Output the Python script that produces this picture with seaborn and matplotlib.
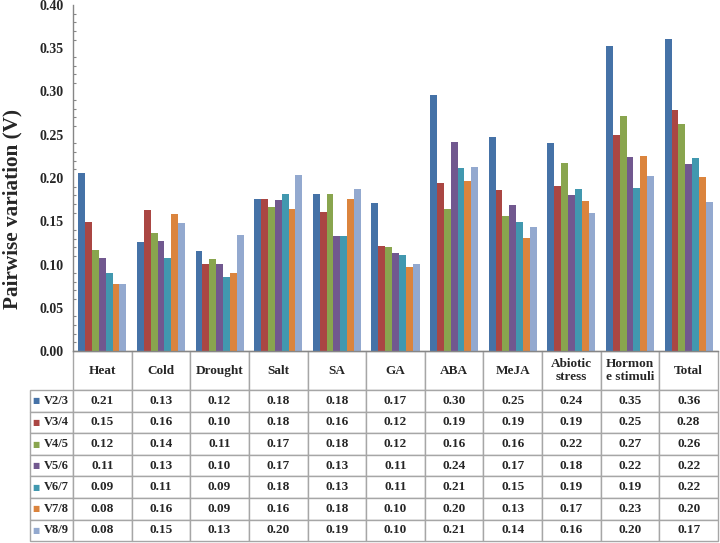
import pandas as pd
import matplotlib
matplotlib.use("Agg")
import matplotlib.pyplot as plt
from matplotlib.ticker import MultipleLocator
import seaborn as sns

# Data (pairwise variation per subset)
categories = ['Heat', 'Cold', 'Drought', 'Salt', 'SA', 'GA', 'ABA', 'MeJA',
              'Abiotic stress', 'Hormone stimuli', 'Total']
header_labels = ['Heat', 'Cold', 'Drought', 'Salt', 'SA', 'GA', 'ABA', 'MeJA',
                 'Abiotic\nstress', 'Hormon\ne stimuli', 'Total']
series = ['V2/3', 'V3/4', 'V4/5', 'V5/6', 'V6/7', 'V7/8', 'V8/9']

v23 = [0.206, 0.126, 0.116, 0.176, 0.182, 0.171, 0.296, 0.247, 0.240, 0.353, 0.361]
v34 = [0.149, 0.163, 0.101, 0.176, 0.161, 0.121, 0.194, 0.186, 0.191, 0.250, 0.279]
v45 = [0.117, 0.136, 0.106, 0.166, 0.182, 0.120, 0.164, 0.156, 0.217, 0.272, 0.262]
v56 = [0.108, 0.127, 0.101, 0.174, 0.133, 0.113, 0.242, 0.169, 0.180, 0.224, 0.216]
v67 = [0.090, 0.107, 0.086, 0.182, 0.133, 0.111, 0.211, 0.149, 0.187, 0.189, 0.223]
v78 = [0.077, 0.158, 0.090, 0.164, 0.176, 0.097, 0.197, 0.131, 0.173, 0.226, 0.201]
v89 = [0.078, 0.148, 0.134, 0.204, 0.187, 0.101, 0.213, 0.143, 0.160, 0.202, 0.172]
series_values = [v23, v34, v45, v56, v67, v78, v89]

colors = ['#4572A7', '#AA4643', '#89A54E', '#71588F', '#4198AF', '#DB843D', '#93A9CF']

# long-form table for seaborn
df = pd.DataFrame({
    'category': categories * len(series),
    'series': [s for s in series for _ in categories],
    'value': [v for vals in series_values for v in vals],
})

sns.set_style('white')
plt.rcParams['font.family'] = ['Liberation Serif', 'DejaVu Serif']

fig = plt.figure(figsize=(7.2, 5.43), dpi=100)
ax = fig.add_axes([73 / 720, 1 - 351 / 543, 645 / 720, 346 / 543])

sns.barplot(data=df, x='category', y='value', hue='series', order=categories,
            hue_order=series, palette=colors, saturation=1, width=0.82,
            linewidth=0, legend=False, ax=ax)

ax.set_xlim(-0.5, len(categories) - 0.5)
ax.set_ylim(0, 0.40)
ax.yaxis.set_major_locator(MultipleLocator(0.05))
ax.yaxis.set_minor_locator(MultipleLocator(0.01))
ax.yaxis.set_major_formatter('{x:.2f}')
ax.tick_params(axis='y', which='major', direction='in', length=4, width=1,
               color='#868686', pad=7, labelsize=10)
ax.tick_params(axis='y', which='minor', direction='in', length=2.5, width=0.8,
               color='#868686', left=True)
for lab in ax.get_yticklabels():
    lab.set_fontweight('bold')
ax.set_xticks([])
ax.set_xlabel('')
ax.set_ylabel('Pairwise variation (V)', fontsize=15.3, fontweight='bold')
ax.yaxis.set_label_coords(-51 / 645, (351 - 209) / 346)

sns.despine(ax=ax)
for side in ['left', 'bottom']:
    ax.spines[side].set_color('#868686')
    ax.spines[side].set_linewidth(1)

# data table under the plot
header_h = 39 / 346
row_h = 21.6 / 346
cell_text = [[f'{v:.2f}' for v in vals] for vals in series_values]
tbl = ax.table(cellText=cell_text, colLabels=header_labels,
               cellLoc='center', colLoc='center',
               colWidths=[1 / len(categories)] * len(categories),
               bbox=[0, -(header_h + 7 * row_h), 1, header_h + 7 * row_h])
for i, name in enumerate(series):
    tbl.add_cell(i + 1, -1, width=43 / 645, height=row_h, text=name, loc='right')
tbl.auto_set_font_size(False)
tbl.set_fontsize(9.5)
for (r, c), cell in tbl.get_celld().items():
    cell.set_edgecolor('#a6a6a6')
    cell.set_linewidth(1.0)
    cell.set_height(header_h if r == 0 else row_h)
    cell.get_text().set_fontweight('bold')
    if c == -1:
        cell.PAD = 0.1
        cell.get_text().set_fontsize(9)

# legend keys in the row label column
for i, col in enumerate(colors):
    y = -(header_h + row_h * (i + 0.5))
    ax.text(-37 / 645, y, '\u25A0', color=col, transform=ax.transAxes,
            ha='center', va='center', fontsize=5.5, family='DejaVu Sans')

fig.savefig('out.png', dpi=100)
